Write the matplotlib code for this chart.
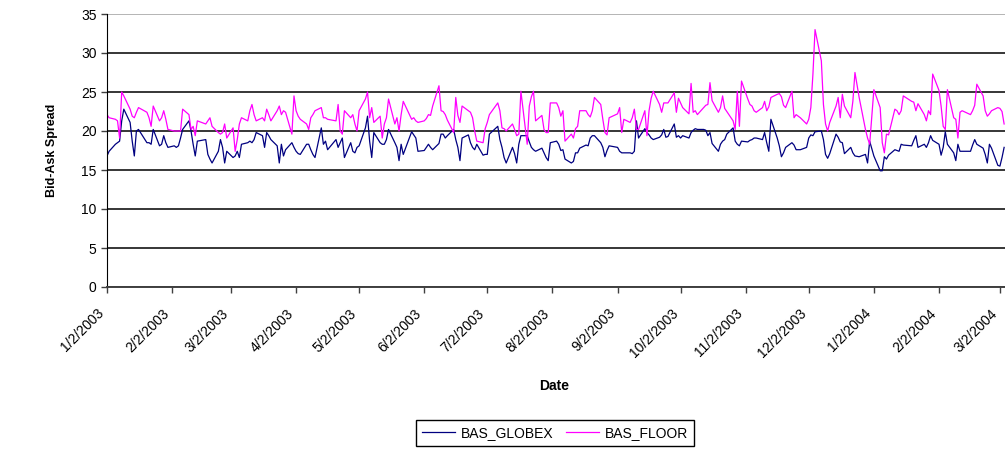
import pandas as pd
import matplotlib
matplotlib.use('Agg')
from matplotlib import pyplot as plt

plt.rcParams['font.family'] = ['Liberation Sans', 'DejaVu Sans']

# daily bid-ask spreads (trading days from 1/2/2003)
bas_globex = [
    16.8, 17.4, 18.3, 18.5, 18.7, 21.3, 22.8, 21.1, 18.7, 16.8, 20.0, 20.2, 18.5,
    18.5, 18.3, 20.2, 18.1, 18.3, 19.4, 18.5, 17.9, 18.1, 17.9, 18.1, 19.1, 20.2,
    21.3, 20.0, 18.3, 16.8, 18.7, 18.9, 17.0, 16.4, 15.9, 17.4, 18.9, 17.9,
    15.9, 17.4, 16.6, 16.8, 17.4, 16.6, 18.3, 18.5, 18.7, 18.5, 18.9, 19.8,
    19.4, 17.9, 19.8, 19.4, 18.9, 18.1, 15.9, 18.3, 16.8, 17.6, 18.5, 17.9,
    17.4, 17.1, 17.0, 18.3, 18.3, 17.6, 17.0, 16.6, 20.4, 18.3, 18.7, 17.6,
    18.9, 17.9, 18.5, 19.1, 16.6, 18.5, 17.4, 17.2, 17.9, 18.1, 20.4, 21.9,
    18.7, 16.6, 19.8, 18.5, 18.3, 18.3, 18.9, 20.2, 18.5, 17.9, 16.2, 18.3,
    17.0, 19.9, 19.5, 19.1, 17.4, 17.5, 17.9, 18.3, 17.9, 17.6, 18.4, 19.6,
    19.6, 19.1, 19.4, 20.2, 18.9, 17.9, 16.2, 19.1, 19.5, 18.5, 17.9, 17.6, 18.3,
    16.9, 17.0, 17.0, 19.6, 20.6, 18.9, 17.9, 16.6, 15.9, 17.9, 17.1, 15.9,
    18.3, 19.4, 19.4, 18.6, 17.9, 17.6, 17.4, 17.8, 17.2, 16.6, 16.2, 18.5,
    18.7, 18.3, 17.5, 17.6, 16.4, 15.9, 16.1, 17.2, 17.2, 17.8, 18.2, 18.1,
    19.1, 19.4, 19.4, 18.5, 17.9, 16.7, 17.5, 18.1, 17.9, 17.4, 17.2, 17.2,
    17.2, 17.1, 17.4, 21.3, 19.1, 20.3, 19.8, 19.5, 19.1, 18.9, 19.2, 19.5,
    20.2, 19.2, 19.3, 20.9, 19.2, 19.4, 19.1, 19.4, 19.1, 19.8, 20.1, 20.3,
    20.2, 20.2, 20.1, 19.4, 19.8, 18.4, 17.4, 18.3, 18.7, 18.9, 19.6, 20.4,
    18.7, 18.3, 18.1, 18.7, 18.6, 18.8, 18.9, 19.1, 19.1, 18.9, 19.8, 18.5,
    17.4, 21.5, 19.1, 18.1, 16.7, 17.2, 17.9, 18.5, 18.2, 17.6, 17.6, 17.9, 19.1,
    19.5, 19.4, 19.9, 20.0, 18.9, 17.0, 16.5, 17.1, 19.6, 19.2, 18.6, 18.5, 17.1,
    17.9, 17.2, 16.8, 16.7, 17.0, 15.9, 18.7, 16.8, 14.9, 14.9, 16.7, 16.4,
    16.9, 17.6, 17.5, 17.4, 18.3, 18.2, 18.1, 18.8, 19.4, 17.9, 18.3, 17.9,
    18.5, 19.4, 18.8, 18.3, 16.9, 17.9, 19.9, 18.3, 17.2, 16.2, 18.3, 17.4,
    17.4, 17.4, 18.2, 18.9, 18.3, 17.8, 17.0, 15.9, 18.3, 17.8, 15.6, 15.5,
    16.6, 17.9,
]
bas_floor = [
    22.1, 21.7, 21.5, 21.3, 19.1, 25.0, 24.5, 22.8, 21.9, 21.7, 22.4, 23.0, 22.4,
    21.7, 20.6, 23.2, 21.3, 21.7, 22.6, 21.5, 20.2, 20.0, 20.0, 20.0, 20.0, 22.8,
    22.1, 20.2, 20.6, 19.4, 21.3, 20.9, 21.3, 21.7, 20.6, 19.8, 19.6, 19.8,
    20.9, 19.1, 20.4, 17.4, 18.9, 20.9, 21.7, 21.3, 22.6, 23.4, 22.1, 21.3,
    21.7, 21.3, 22.8, 22.1, 21.3, 22.6, 23.2, 22.1, 22.6, 22.4, 19.6, 24.5,
    22.6, 21.9, 21.5, 20.9, 20.2, 21.7, 22.1, 22.6, 23.0, 21.7, 21.7, 21.5,
    21.3, 23.4, 20.0, 19.6, 22.6, 21.7, 22.1, 20.9, 20.0, 22.6, 24.1, 25.0,
    21.7, 23.0, 21.1, 21.9, 19.1, 20.9, 21.7, 24.1, 20.9, 21.7, 20.0, 22.1,
    23.8, 21.5, 21.7, 21.3, 21.1, 21.3, 21.6, 22.1, 22.0, 23.2, 25.8, 22.6,
    22.5, 22.1, 21.4, 19.8, 24.3, 22.0, 21.1, 23.2, 22.6, 22.4, 21.7, 20.0, 18.7,
    18.5, 20.3, 21.1, 22.1, 23.6, 22.6, 20.4, 20.3, 20.0, 20.9, 20.2, 19.4,
    19.6, 25.1, 18.3, 23.2, 24.4, 25.1, 21.3, 22.0, 20.2, 19.8, 19.8, 23.6,
    23.6, 23.0, 21.9, 22.6, 18.7, 19.6, 19.1, 20.3, 20.6, 22.6, 22.6, 22.1,
    21.8, 22.6, 24.3, 23.4, 21.5, 19.8, 19.5, 21.7, 22.2, 23.0, 19.8, 21.5,
    21.1, 21.7, 22.8, 20.2, 20.2, 22.6, 19.4, 22.6, 24.2, 25.1, 23.4, 22.4,
    23.6, 23.6, 23.6, 24.9, 22.4, 24.2, 23.6, 23.0, 22.2, 26.1, 22.4, 22.6,
    22.1, 23.0, 23.3, 23.4, 26.2, 23.9, 22.4, 23.0, 24.5, 22.9, 22.5, 21.3,
    20.2, 25.1, 20.6, 26.4, 24.1, 23.4, 23.2, 22.6, 22.4, 23.0, 23.8, 22.6,
    23.1, 24.3, 24.7, 24.8, 24.4, 23.3, 23.0, 25.1, 21.7, 22.1, 21.7, 20.9, 21.5,
    23.0, 27.3, 33.0, 29.0, 23.4, 20.9, 20.0, 21.1, 23.2, 24.3, 21.7, 24.7, 23.2,
    21.7, 23.8, 27.5, 24.3, 20.2, 19.1, 18.3, 25.3, 23.0, 18.5, 17.2, 19.6,
    19.5, 22.8, 22.6, 22.1, 22.6, 24.5, 23.8, 23.7, 22.6, 23.5, 22.1, 21.3,
    22.6, 22.1, 27.3, 25.2, 23.2, 20.6, 20.2, 25.3, 21.7, 21.5, 19.1, 22.4,
    22.6, 22.1, 22.6, 23.3, 26.0, 24.5, 22.6, 21.9, 22.2, 22.6, 23.0, 22.9,
    22.5, 20.9,
]

# US exchange holidays in the period (no trading on these days)
holidays = ['2003-01-20', '2003-02-17', '2003-04-18', '2003-05-26', '2003-07-04',
            '2003-09-01', '2003-11-27', '2003-12-25', '2004-01-01', '2004-01-19',
            '2004-02-16']
day = pd.offsets.CustomBusinessDay(holidays=holidays)
dates = pd.date_range('2003-01-02', periods=len(bas_globex), freq=day)

tick_dates = pd.date_range('2003-01-01', '2004-03-01', freq='MS') + pd.Timedelta(days=1)
tick_labels = [f'{d.month}/{d.day}/{d.year}' for d in tick_dates]

fig = plt.figure(figsize=(10.05, 4.51), dpi=100)
ax = fig.add_axes([107 / 1005, 1 - 287 / 451, 898 / 1005, 273 / 451])

ax.plot(dates, bas_globex, color='#000080', lw=0.9, label='BAS_GLOBEX')
ax.plot(dates, bas_floor, color='#FF00FF', lw=0.9, label='BAS_FLOOR')

ax.set_ylim(0, 35)
ax.set_yticks(range(0, 36, 5))
ax.set_xlim(pd.Timestamp('2003-01-02'), pd.Timestamp('2004-03-04 10:00'))
ax.set_xticks(tick_dates)
ax.set_xticklabels(tick_labels, rotation=45, ha='right', va='bottom',
                   rotation_mode='anchor')
ax.tick_params(axis='both', labelsize=10, length=4, width=1, color='#404040')
ax.tick_params(axis='x', pad=17)
ax.grid(axis='y', color='black', lw=1.1)
ax.get_ygridlines()[-1].set_color('#a0a0a0')
ax.set_axisbelow(True)
for side in ['top', 'right']:
    ax.spines[side].set_visible(False)
ax.spines['left'].set_color('black')
ax.spines['bottom'].set_color('#404040')
ax.spines['bottom'].set_linewidth(1.4)

fig.text(52 / 1005, 1 - 150 / 451, 'Bid-Ask Spread', rotation=90, ha='center',
         va='center', fontsize=9, weight='bold')
fig.text(554 / 1005, 1 - 386 / 451, 'Date', ha='center', va='center',
         fontsize=10, weight='bold')

fig.legend(loc='center', bbox_to_anchor=(555 / 1005, 1 - 433 / 451), ncol=2,
           fontsize=10, fancybox=False, edgecolor='black', framealpha=1,
           handlelength=2.4, handletextpad=0.4, columnspacing=0.9,
           borderpad=0.4)

fig.savefig('out.png', dpi=100)
